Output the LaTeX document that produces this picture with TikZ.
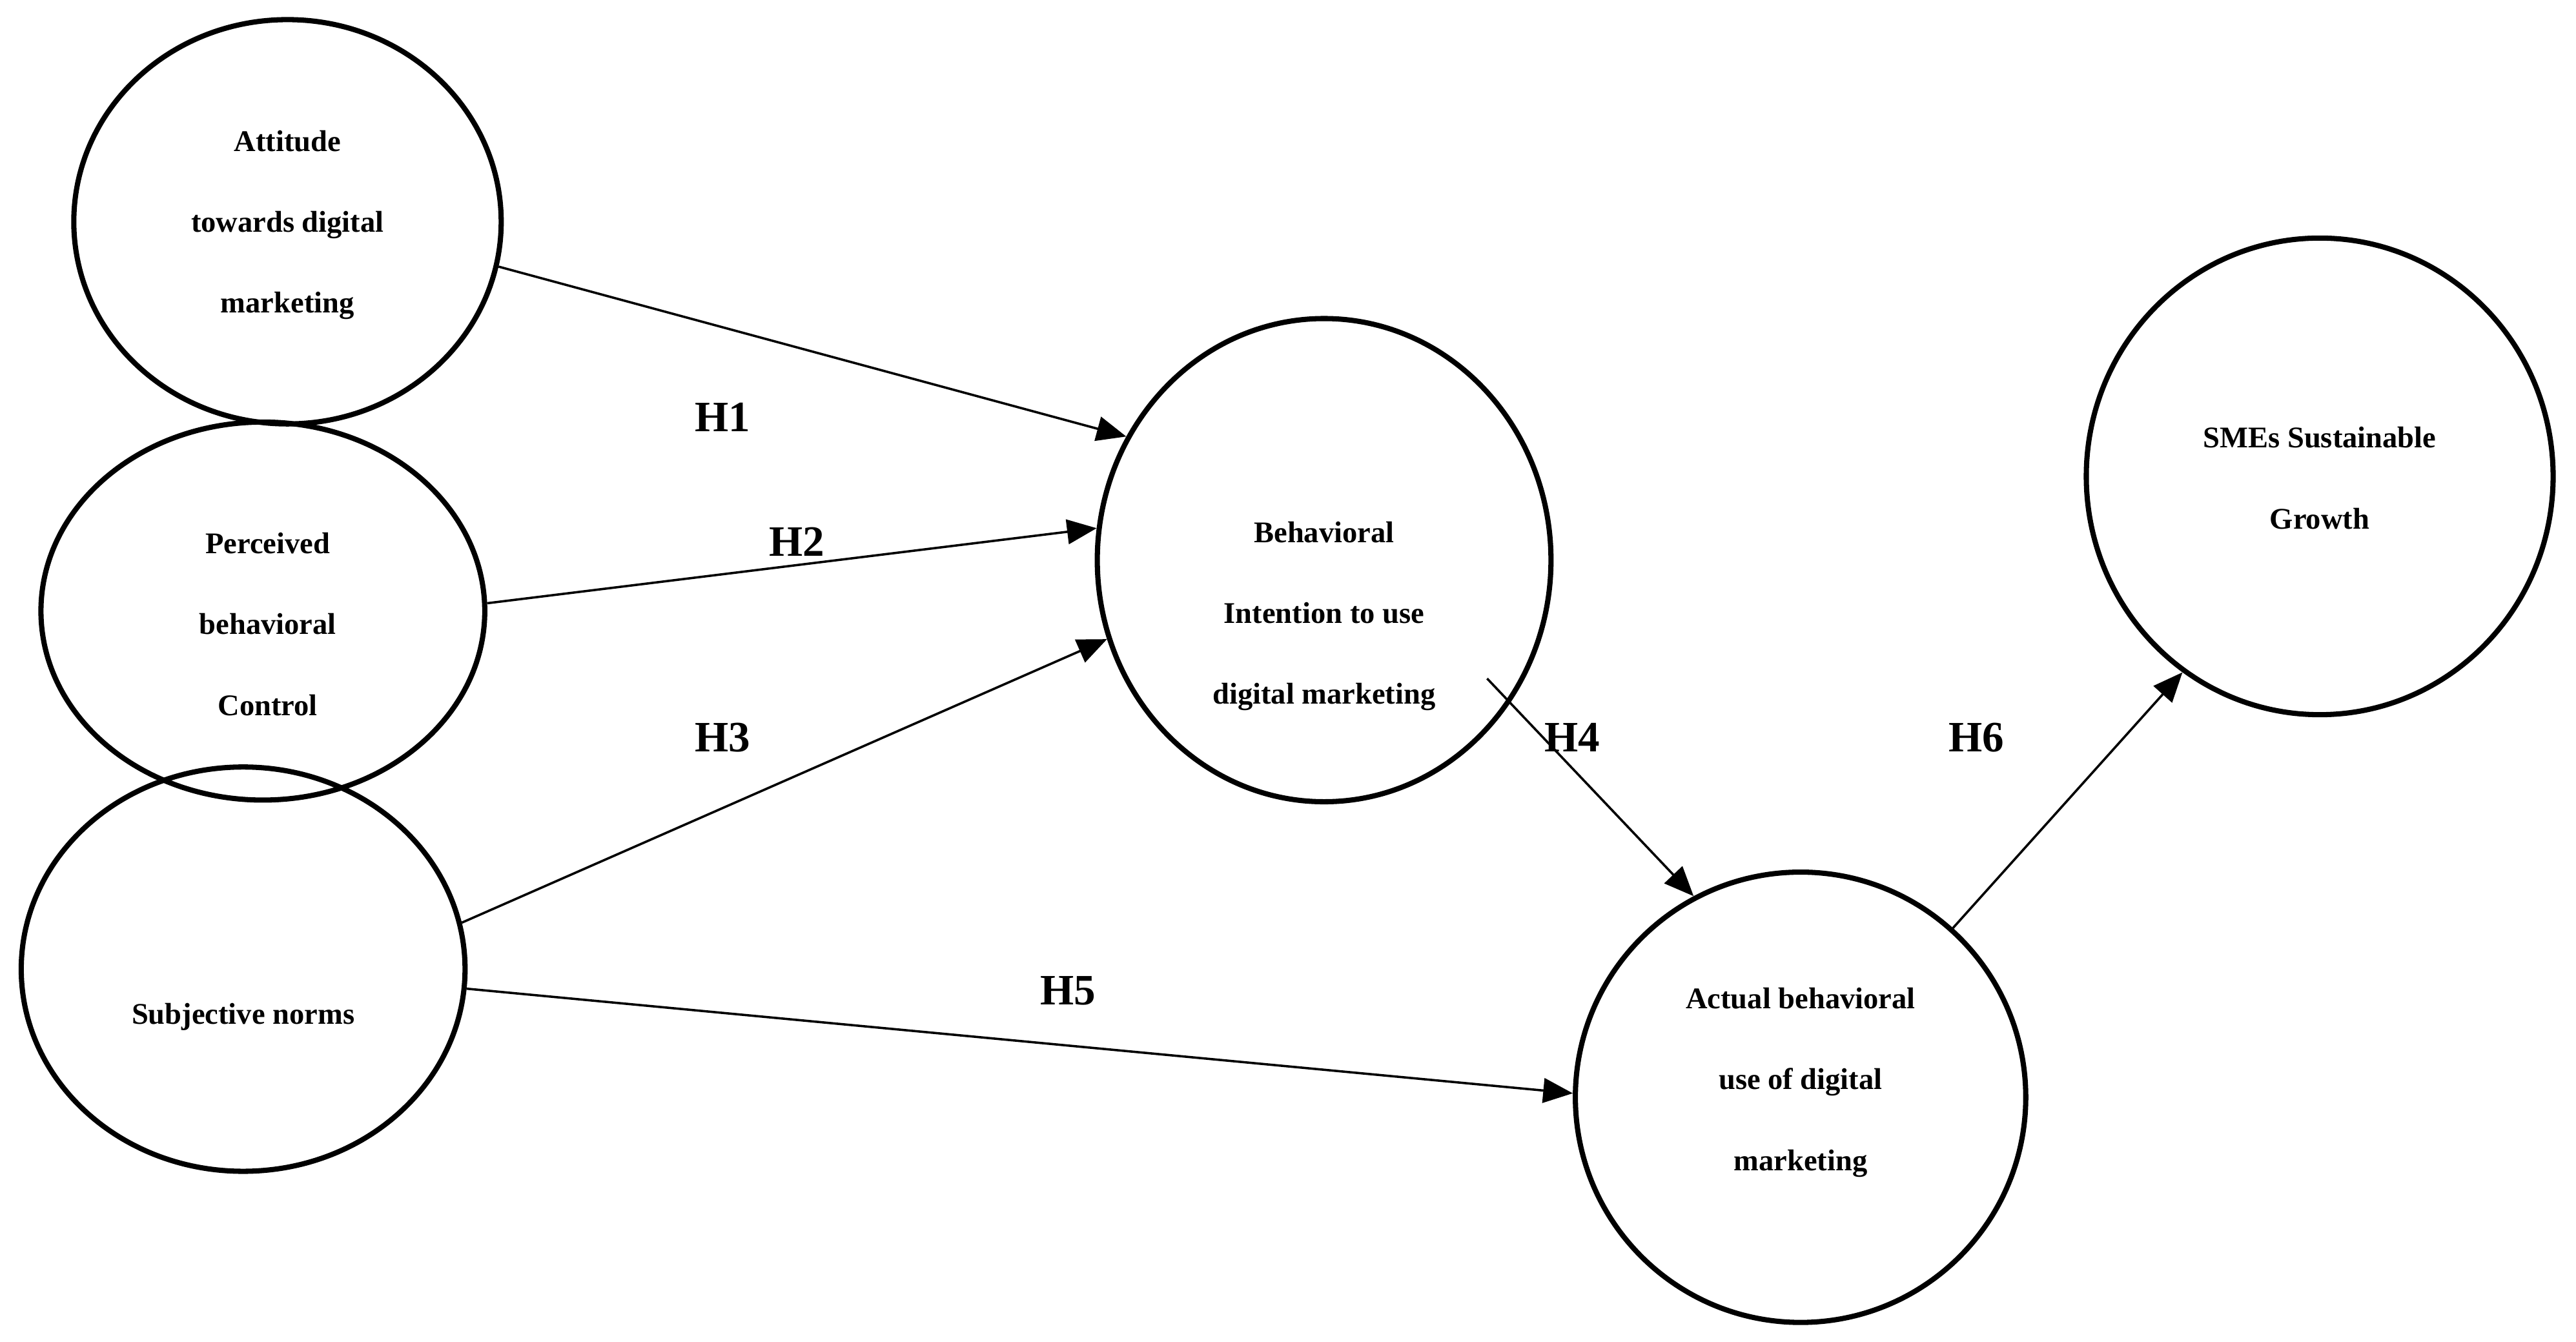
\documentclass[tikz,border=0pt]{standalone}
\usepackage{fontspec}
\setmainfont{Liberation Serif}
\usetikzlibrary{shapes.geometric,arrows.meta,calc}
\begin{document}
\begin{tikzpicture}[x=0.01cm,y=-0.01cm]
\tikzstyle{construct}=[draw,ellipse,line width=0.9pt,inner sep=0pt]
\tikzstyle{caption}=[align=center,font=\fontsize{5.2}{14}\selectfont\bfseries]
\tikzstyle{path}=[line width=0.4pt,-{Triangle[length=0.18cm,width=0.15cm]}]
\tikzstyle{hyp}=[font=\fontsize{7.5}{9}\selectfont\bfseries]
\useasboundingbox (0,0) rectangle (1568,817);
\node[construct,minimum width=2.6cm,minimum height=2.46cm] (att) at (175,135) {};
\node[construct,minimum width=2.7cm,minimum height=2.3cm] (pbc) at (160,372) {};
\node[construct,minimum width=2.7cm,minimum height=2.46cm] (sn) at (148,590) {};
\node[construct,minimum width=2.76cm,minimum height=2.94cm] (bi) at (806,341) {};
\node[construct,minimum width=2.74cm,minimum height=2.74cm] (abu) at (1096,668) {};
\node[construct,minimum width=2.84cm,minimum height=2.9cm] (sme) at (1412,290) {};
\node[caption] (att-txt) at (175,137) {Attitude\\towards digital\\marketing};
\node[caption] (pbc-txt) at (163,380) {Perceived\\behavioral\\Control};
\node[caption] (sn-txt) at (148,619) {Subjective norms};
\node[caption] (bi-txt) at (806,375) {Behavioral\\Intention to use\\digital marketing};
\node[caption] (abu-txt) at (1096,659) {Actual behavioral\\use of digital\\marketing};
\node[caption] (sme-txt) at (1412,291) {SMEs Sustainable\\Growth};
% hypothesised paths
\draw[path] (att.-12) -- (bi.148);
\draw[path] (pbc.2) -- (bi.172);
\draw[path] (sn.12) -- (bi.200);
\draw[path] (sn.-5) -- (abu.179);
\draw[path] ($(bi)!0.86!(bi.-36)$) -- (abu.118);
\draw[path] (abu.48) -- (sme.235);
\node[hyp] (h1) at (440,254) {H1};
\node[hyp] (h2) at (485,330) {H2};
\node[hyp] (h3) at (440,449) {H3};
\node[hyp] (h4) at (957,449) {H4};
\node[hyp] (h5) at (650,603) {H5};
\node[hyp] (h6) at (1203,449) {H6};
\end{tikzpicture}
\end{document}
